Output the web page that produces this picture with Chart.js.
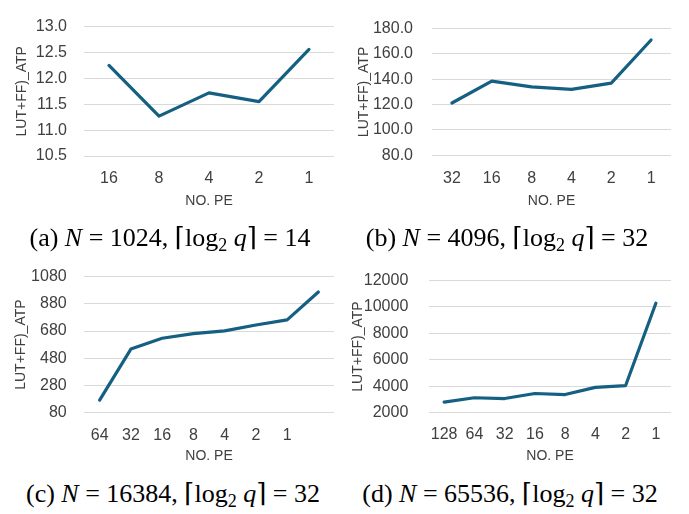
<!DOCTYPE html>
<html>
<head>
<meta charset="utf-8">
<script src="https://cdn.jsdelivr.net/npm/chart.js@4.4.1/dist/chart.umd.min.js"></script>
<style>
  body { margin: 0; background: #fff; }
  #page { position: relative; width: 689px; height: 514px; overflow: hidden; }
  canvas { position: absolute; }
  .cap {
    position: absolute; text-align: center; white-space: nowrap;
    font-family: "Liberation Serif", "DejaVu Serif", serif; font-size: 26px; line-height: 26px; color: #000;
  }
  .cap i { font-style: italic; }
  .cap sub { font-size: 18px; vertical-align: -5px; line-height: 0; }
</style>
</head>
<body>
<div id="page">
  <canvas id="chart-a" width="345" height="214" style="left:0;top:0"></canvas>
  <canvas id="chart-b" width="344" height="214" style="left:345px;top:0"></canvas>
  <canvas id="chart-c" width="345" height="219" style="left:0;top:250px"></canvas>
  <canvas id="chart-d" width="344" height="219" style="left:345px;top:250px"></canvas>

  <div class="cap" style="left:0;width:340px;top:225px">(a) <i>N</i> = 1024, ⌈log<sub>2</sub> <i>q</i>⌉ = 14</div>
  <div class="cap" style="left:337px;width:340px;top:225px">(b) <i>N</i> = 4096, ⌈log<sub>2</sub> <i>q</i>⌉ = 32</div>
  <div class="cap" style="left:3px;width:340px;top:481px">(c) <i>N</i> = 16384, ⌈log<sub>2</sub> <i>q</i>⌉ = 32</div>
  <div class="cap" style="left:340px;width:340px;top:481px">(d) <i>N</i> = 65536, ⌈log<sub>2</sub> <i>q</i>⌉ = 32</div>
</div>

<script>
"use strict";

// data
const peA = ['16', '8', '4', '2', '1'];
const atpA = [12.25, 11.27, 11.72, 11.55, 12.56];
const ticksA = [10.5, 11.0, 11.5, 12.0, 12.5, 13.0];

const peB = ['32', '16', '8', '4', '2', '1'];
const atpB = [121.3, 138.5, 134.0, 132.0, 137.0, 171.0];
const ticksB = [80, 100, 120, 140, 160, 180];

const peC = ['64', '32', '16', '8', '4', '2', '1', ''];
const atpC = [170, 547, 627, 661, 681, 725, 763, 968];
const ticksC = [80, 280, 480, 680, 880, 1080];

const peD = ['128', '64', '32', '16', '8', '4', '2', '1'];
const atpD = [2800, 3130, 3070, 3450, 3370, 3910, 4050, 10270];
const ticksD = [2000, 4000, 6000, 8000, 10000, 12000];

const lineColor = '#156082';
const textColor = '#404040';
const gridColor = '#d9d9d9';

Chart.defaults.font.family = '"Liberation Sans", Arial, sans-serif';
Chart.defaults.color = textColor;

function lineChart(id, labels, values, ticks, decimals, box) {
  return new Chart(document.getElementById(id), {
    type: 'line',
    data: {
      labels: labels,
      datasets: [{
        data: values,
        borderColor: lineColor,
        borderWidth: 3.2,
        borderJoinStyle: 'round',
        borderCapStyle: 'round',
        pointRadius: 0,
        tension: 0,
        fill: false
      }]
    },
    options: {
      responsive: false,
      animation: false,
      events: [],
      layout: {
        padding: { top: box.top, right: box.right, bottom: 0, left: 0 }
      },
      plugins: {
        legend: { display: false },
        tooltip: { enabled: false }
      },
      scales: {
        x: {
          offset: true,
          grid: { display: false, drawTicks: false },
          border: { display: false },
          ticks: { padding: box.xPad, font: { size: 16 }, color: textColor, maxRotation: 0, autoSkip: false },
          title: { display: true, text: 'NO. PE', font: { size: 14 }, color: textColor, padding: { top: 4, bottom: 4 } },
          afterFit: function (s) { s.height = box.xHeight; }
        },
        y: {
          min: ticks[0],
          max: ticks[ticks.length - 1],
          grid: { color: gridColor, lineWidth: 1, drawTicks: false },
          border: { display: false },
          ticks: {
            padding: box.yPad,
            font: { size: 16 },
            color: textColor,
            callback: function (v) { return Number(v).toFixed(decimals); }
          },
          afterBuildTicks: function (s) { s.ticks = ticks.map(function (v) { return { value: v }; }); },
          title: { display: true, text: 'LUT+FF)_ATP', font: { size: 14 }, color: textColor, padding: { top: box.titlePad, bottom: 0 } },
          afterFit: function (s) { s.width = box.yWidth; }
        }
      }
    }
  });
}

lineChart('chart-a', peA, atpA, ticksA, 1, { top: 12, right: 11, yWidth: 84, xHeight: 58, xPad: 13.4, yPad: 17, titlePad: 13.6 });
lineChart('chart-b', peB, atpB, ticksB, 1, { top: 12, right: 18, yWidth: 87, xHeight: 58.7, xPad: 13.4, yPad: 19, titlePad: 11 });
lineChart('chart-c', peC, atpC, ticksC, 0, { top: 16, right: 11, yWidth: 84, xHeight: 56.7, xPad: 13.8, yPad: 17.3, titlePad: 12.6 });
lineChart('chart-d', peD, atpD, ticksD, 0, { top: 16, right: 18, yWidth: 84, xHeight: 56.3, xPad: 12.7, yPad: 20.7, titlePad: 5 });
</script>
</body>
</html>
